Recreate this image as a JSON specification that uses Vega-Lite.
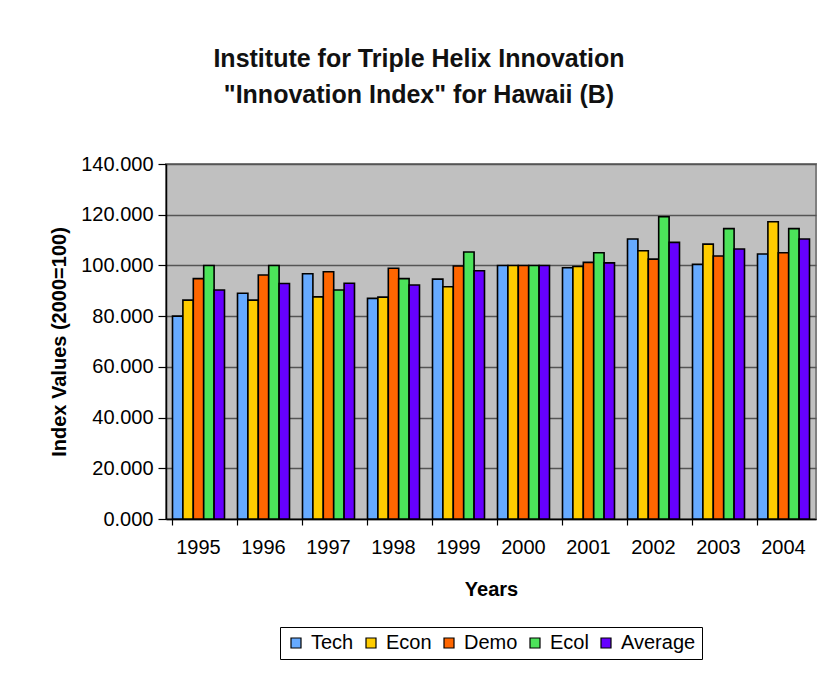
{
  "$schema": "https://vega.github.io/schema/vega-lite/v6.json",
  "width": 650,
  "height": 355,
  "autosize": {"type": "none"},
  "padding": {"left": 166, "top": 164, "right": 19, "bottom": 166},
  "background": "white",
  "title": {
    "text": ["Institute for Triple Helix Innovation", "\"Innovation Index\" for Hawaii (B)"],
    "font": "Liberation Sans Narrow, Liberation Sans, Arial",
    "fontSize": 25,
    "fontWeight": "bold",
    "color": "#111111",
    "lineHeight": 36,
    "anchor": "middle",
    "dx": -72,
    "offset": 46
  },
  "data": {
    "values": [
      {"year": "1995", "series": "Tech", "value": 80.0},
      {"year": "1995", "series": "Econ", "value": 86.3},
      {"year": "1995", "series": "Demo", "value": 94.8},
      {"year": "1995", "series": "Ecol", "value": 100.0},
      {"year": "1995", "series": "Average", "value": 90.3},
      {"year": "1996", "series": "Tech", "value": 89.0},
      {"year": "1996", "series": "Econ", "value": 86.3},
      {"year": "1996", "series": "Demo", "value": 96.2},
      {"year": "1996", "series": "Ecol", "value": 100.0},
      {"year": "1996", "series": "Average", "value": 92.9},
      {"year": "1997", "series": "Tech", "value": 96.7},
      {"year": "1997", "series": "Econ", "value": 87.6},
      {"year": "1997", "series": "Demo", "value": 97.5},
      {"year": "1997", "series": "Ecol", "value": 90.3},
      {"year": "1997", "series": "Average", "value": 93.0},
      {"year": "1998", "series": "Tech", "value": 87.0},
      {"year": "1998", "series": "Econ", "value": 87.5},
      {"year": "1998", "series": "Demo", "value": 98.9},
      {"year": "1998", "series": "Ecol", "value": 94.8},
      {"year": "1998", "series": "Average", "value": 92.3},
      {"year": "1999", "series": "Tech", "value": 94.6},
      {"year": "1999", "series": "Econ", "value": 91.6},
      {"year": "1999", "series": "Demo", "value": 99.8},
      {"year": "1999", "series": "Ecol", "value": 105.3},
      {"year": "1999", "series": "Average", "value": 97.9},
      {"year": "2000", "series": "Tech", "value": 100.0},
      {"year": "2000", "series": "Econ", "value": 100.0},
      {"year": "2000", "series": "Demo", "value": 100.0},
      {"year": "2000", "series": "Ecol", "value": 100.0},
      {"year": "2000", "series": "Average", "value": 100.0},
      {"year": "2001", "series": "Tech", "value": 99.1},
      {"year": "2001", "series": "Econ", "value": 99.6},
      {"year": "2001", "series": "Demo", "value": 101.2},
      {"year": "2001", "series": "Ecol", "value": 105.0},
      {"year": "2001", "series": "Average", "value": 101.0},
      {"year": "2002", "series": "Tech", "value": 110.4},
      {"year": "2002", "series": "Econ", "value": 105.8},
      {"year": "2002", "series": "Demo", "value": 102.5},
      {"year": "2002", "series": "Ecol", "value": 119.2},
      {"year": "2002", "series": "Average", "value": 109.1},
      {"year": "2003", "series": "Tech", "value": 100.4},
      {"year": "2003", "series": "Econ", "value": 108.4},
      {"year": "2003", "series": "Demo", "value": 103.7},
      {"year": "2003", "series": "Ecol", "value": 114.5},
      {"year": "2003", "series": "Average", "value": 106.5},
      {"year": "2004", "series": "Tech", "value": 104.5},
      {"year": "2004", "series": "Econ", "value": 117.2},
      {"year": "2004", "series": "Demo", "value": 105.0},
      {"year": "2004", "series": "Ecol", "value": 114.5},
      {"year": "2004", "series": "Average", "value": 110.4}
    ]
  },
  "mark": {"type": "bar", "stroke": "#000000", "strokeWidth": 1.6, "strokeJoin": "miter"},
  "encoding": {
    "x": {
      "field": "year",
      "type": "nominal",
      "scale": {"paddingInner": 0.2, "paddingOuter": 0.1},
      "axis": {
        "title": "Years",
        "labelAngle": 0,
        "bandPosition": 0,
        "labelFont": "Liberation Sans, Arial",
        "labelFontSize": 20,
        "labelColor": "#000000",
        "labelPadding": 12,
        "titleFont": "Liberation Sans, Arial",
        "titleFontSize": 20,
        "titleFontWeight": "bold",
        "titleColor": "#000000",
        "titlePadding": 22,
        "domainColor": "#000000",
        "domainWidth": 1.5,
        "tickColor": "#000000",
        "tickWidth": 1.2,
        "tickSize": 6,
        "grid": false
      }
    },
    "xOffset": {
      "field": "series",
      "type": "nominal",
      "sort": ["Tech", "Econ", "Demo", "Ecol", "Average"],
      "scale": {"paddingInner": 0, "paddingOuter": 0}
    },
    "y": {
      "field": "value",
      "type": "quantitative",
      "scale": {"domain": [0, 140], "nice": false},
      "axis": {
        "title": "Index Values (2000=100)",
        "values": [0, 20, 40, 60, 80, 100, 120, 140],
        "format": ".3f",
        "labelFont": "Liberation Sans, Arial",
        "labelFontSize": 20,
        "labelColor": "#000000",
        "labelPadding": 5,
        "titleFont": "Liberation Sans, Arial",
        "titleFontSize": 20,
        "titleFontWeight": "bold",
        "titleColor": "#000000",
        "titlePadding": 11,
        "domainColor": "#000000",
        "domainWidth": 1.5,
        "tickColor": "#000000",
        "tickWidth": 1.2,
        "tickSize": 8,
        "grid": true,
        "gridColor": "#555555",
        "gridWidth": 1.4
      }
    },
    "color": {
      "field": "series",
      "type": "nominal",
      "sort": ["Tech", "Econ", "Demo", "Ecol", "Average"],
      "scale": {
        "domain": ["Tech", "Econ", "Demo", "Ecol", "Average"],
        "range": ["#66AAFF", "#FFCC00", "#FF6600", "#4CE35A", "#6600FF"]
      },
      "legend": {
        "title": null,
        "orient": "bottom",
        "direction": "horizontal",
        "symbolType": "square",
        "symbolSize": 100,
        "symbolStrokeColor": "#000000",
        "symbolStrokeWidth": 1.2,
        "labelFont": "Liberation Sans, Arial",
        "labelFontSize": 20,
        "labelColor": "#000000",
        "labelOffset": 5,
        "columnPadding": 7,
        "strokeColor": "#000000",
        "padding": 6,
        "offset": 28
      }
    }
  },
  "config": {
    "view": {"fill": "#C0C0C0", "stroke": "#808080", "strokeWidth": 2},
    "legend": {"layout": {"bottom": {"anchor": "middle"}}}
  }
}
